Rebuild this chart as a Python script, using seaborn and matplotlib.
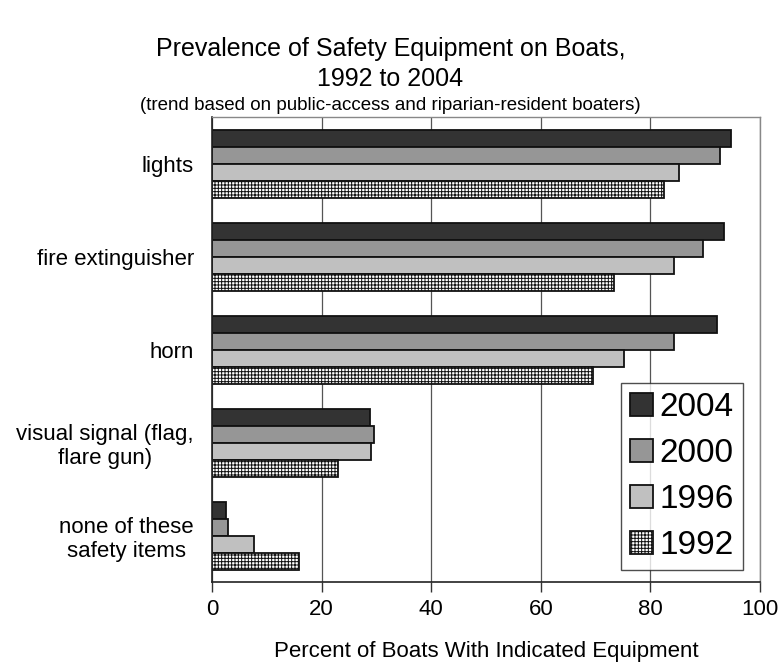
import pandas as pd
import matplotlib
matplotlib.use("Agg")
import matplotlib.pyplot as plt
import seaborn as sns

# data
items = ["lights", "fire extinguisher", "horn",
         "visual signal (flag,\nflare gun)", "none of these\nsafety items"]
years = ["2004", "2000", "1996", "1992"]
pct_2004 = [94.8, 93.5, 92.1, 28.8, 2.5]
pct_2000 = [92.7, 89.6, 84.3, 29.6, 3.0]
pct_1996 = [85.3, 84.4, 75.2, 29.0, 7.6]
pct_1992 = [82.5, 73.3, 69.5, 22.9, 15.8]
colors = ["#333333", "#969696", "#c0c0c0", "#ffffff"]

rows = []
for yr, vals in zip(years, [pct_2004, pct_2000, pct_1996, pct_1992]):
    for it, v in zip(items, vals):
        rows.append({"item": it, "year": yr, "pct": v})
df = pd.DataFrame(rows)

sns.set_style("white")
plt.rcParams["font.family"] = ["Liberation Sans", "DejaVu Sans"]
plt.rcParams["text.color"] = "black"
plt.rcParams["xtick.color"] = "black"
plt.rcParams["ytick.color"] = "black"
plt.rcParams["axes.labelcolor"] = "black"
plt.rcParams["hatch.linewidth"] = 0.7

fig = plt.figure(figsize=(7.81, 6.66), dpi=100)
ax = fig.add_axes([0.2715, 0.126, 0.7015, 0.698])

sns.barplot(data=df, y="item", x="pct", hue="year", order=items,
            hue_order=years, palette=colors, orient="h", width=0.73,
            edgecolor="#111111", linewidth=1.3, saturation=1, ax=ax)

# 1992 bars: white with a fine grid hatch
for bar in ax.containers[3]:
    bar.set_hatch("+++++")
    bar.set_facecolor("white")

ax.set_xlim(0, 100)
ax.set_ylim(len(items) - 0.5, -0.5)
ax.set_xticks([0, 20, 40, 60, 80, 100])
ax.tick_params(axis="x", labelsize=16, length=7, width=1, direction="out",
               pad=5, bottom=True, color="#333333")
ax.set_yticks(range(len(items)))
ax.set_yticklabels(items, fontsize=16, multialignment="center")
ax.tick_params(axis="y", length=0, pad=13)
ax.set_yticks([i + 0.5 for i in range(-1, len(items))], minor=True)
ax.tick_params(axis="y", which="minor", length=6, width=1, color="#333333")

ax.grid(axis="x", color="#555555", linewidth=0.9)
ax.set_axisbelow(True)
for s in ["top", "right"]:
    ax.spines[s].set_color("#888888")
    ax.spines[s].set_linewidth(1)
for s in ["left", "bottom"]:
    ax.spines[s].set_color("#222222")
    ax.spines[s].set_linewidth(1.2)

ax.set_xlabel("Percent of Boats With Indicated Equipment", fontsize=16, labelpad=15)
ax.set_ylabel("")

leg = ax.legend(loc="lower right", bbox_to_anchor=(0.969, 0.026), fontsize=24,
                frameon=True, fancybox=False, handlelength=0.69, handleheight=0.69,
                handletextpad=0.21, labelspacing=0.45, borderpad=0.27,
                borderaxespad=0)
leg.get_frame().set_edgecolor("#222222")
leg.get_frame().set_linewidth(1)
leg.legend_handles[3].set_hatch("+++++")
leg.legend_handles[3].set_facecolor("white")

fig.text(0.5, 0.926, "Prevalence of Safety Equipment on Boats,", ha="center",
         va="center", fontsize=18)
fig.text(0.5, 0.881, "1992 to 2004", ha="center", va="center", fontsize=18)
fig.text(0.5, 0.842, "(trend based on public-access and riparian-resident boaters)",
         ha="center", va="center", fontsize=13.5)

fig.savefig("out.png", dpi=100)
